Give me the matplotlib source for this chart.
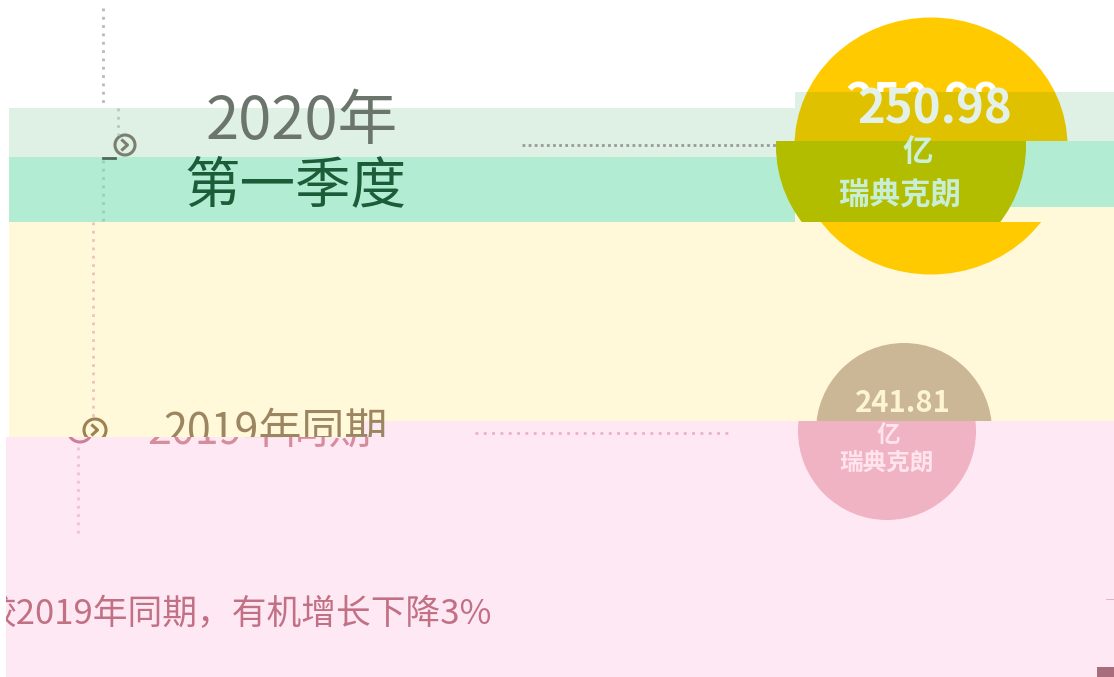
#!/usr/bin/env python
# -*- coding: utf-8 -*-

import matplotlib
matplotlib.use('Agg')
import matplotlib.pyplot as plt
from matplotlib.patches import Rectangle, Ellipse, Circle
from matplotlib.transforms import Bbox, TransformedBbox

plt.rcParams['font.family'] = ['Noto Sans CJK SC', 'DejaVu Sans']

# values shown in the picture
periods = ['2020年', '2019年同期']
quarter = '第一季度'
revenue = [250.98, 241.81]
unit_lines = ['亿', '瑞典克朗']
note = '较2019年同期，有机增长下降3%'


def clip(art, x0, y0, x1, y1):
    # patches: clip path, texts: clip box (agg ignores clip paths on text)
    if isinstance(art, matplotlib.text.Text):
        art.set_clip_on(True)
        art.set_clip_box(TransformedBbox(Bbox([[x0, y0], [x1, y1]]), ax.transData))
    else:
        r = Rectangle((x0, y0), x1 - x0, y1 - y0, transform=ax.transData)
        art.set_clip_path(r)
    return art


def rect(x0, y0, x1, y1, c):
    ax.add_patch(Rectangle((x0, y0), x1 - x0, y1 - y0, color=c, lw=0))


def ring(cx, cy, r, c, box):
    p = ax.add_patch(Circle((cx, cy), r, fill=False, ec=c, lw=2.2))
    clip(p, *box)
    ln, = ax.plot([cx - 2.5, cx + 2.5, cx - 2.5], [cy - 4.5, cy, cy + 4.5], color=c, lw=2.2)
    clip(ln, *box)


fig = plt.figure(figsize=(11.14, 6.77), dpi=100)
ax = fig.add_axes([0, 0, 1, 1])
ax.set_xlim(0, 1114)
ax.set_ylim(677, 0)
ax.axis('off')

# background bands
rect(9, 207, 1114, 437, '#fff8d9')
rect(6, 437, 1114, 677, '#fde8f4')
rect(362, 421, 1114, 437, '#fde8f4')
rect(9, 108, 795, 157, '#dff0e5')
rect(795, 92, 1114, 141, '#dff0e5')
rect(9, 157, 795, 222, '#b2ecd3')
rect(795, 141, 1114, 207, '#b2ecd3')

# timeline dotted lines
ax.plot([103, 103], [8, 108], color='#b8b8b8', lw=2, ls=(0, (1, 2)))
ax.plot([118, 118], [108, 135], color='#b8c8bb', lw=2, ls=(0, (1, 2)))
ax.plot([103, 103], [160, 222], color='#9fcdb5', lw=2, ls=(0, (1, 2)))
ax.plot([93, 93], [222, 418], color='#f0c0c4', lw=2, ls=(0, (1, 2)))
ax.plot([78, 78], [447, 535], color='#f3c0d0', lw=2, ls=(0, (1, 2)))
ax.plot([103, 115], [158, 158], color='#4f6a58', lw=2)

ax.plot([522, 777], [145, 145], color='#9a9a9a', lw=2, ls=(0, (1, 1.2)))
ax.plot([475, 728], [433, 433], color='#ebb2c2', lw=2, ls=(0, (1, 2)))

# icons
ring(125, 145, 10, '#7b7f70', (0, 0, 1114, 157))
ring(95, 430, 11, '#9c8152', (0, 0, 1114, 437))
ring(80, 430, 12, '#cc7f95', (0, 437, 1114, 677))

# big circle 2020
for box in [(0, 0, 1114, 92), (0, 222, 1114, 677)]:
    clip(ax.add_patch(Ellipse((931, 146), 273, 257, color='#ffcb00', lw=0)), *box)
clip(ax.add_patch(Ellipse((931, 146), 273, 257, color='#dfc100', lw=0)), 0, 92, 1114, 141)
clip(ax.add_patch(Circle((901, 146), 125, color='#b2bd00', lw=0)), 0, 141, 1114, 222)

clip(ax.text(923, 118, f'{revenue[0]:.2f}', ha='center', va='baseline', fontsize=34,
             fontweight='bold', color='white'), 0, 0, 1114, 92)
ax.text(935, 124, f'{revenue[0]:.2f}', ha='center', va='baseline', fontsize=34,
        fontweight='bold', color='#e4f1e8')
ax.text(918, 161, unit_lines[0], ha='center', va='baseline', fontsize=22,
        fontweight='bold', color='#cdf0dc')
ax.text(900, 204, unit_lines[1], ha='center', va='baseline', fontsize=22,
        fontweight='bold', color='#c8efd6')

# small circle 2019
clip(ax.add_patch(Circle((904, 431), 88, color='#cbb796', lw=0)), 0, 0, 1114, 421)
clip(ax.add_patch(Circle((887, 431), 89, color='#efb3c3', lw=0)), 0, 421, 1114, 677)
ax.text(903, 412, f'{revenue[1]:.2f}', ha='center', va='baseline', fontsize=21,
        fontweight='bold', color='#fdf5d2')
ax.text(888, 442, unit_lines[0], ha='center', va='baseline', fontsize=17,
        fontweight='bold', color='#ffe4ee')
ax.text(887, 470, unit_lines[1], ha='center', va='baseline', fontsize=17,
        fontweight='bold', color='#ffe4ee')

# headings
ax.text(302, 139, periods[0], ha='center', va='baseline', fontsize=43, color='#6b756b')
ax.text(295, 202, quarter, ha='center', va='baseline', fontsize=40, color='#1b5c39')

clip(ax.text(275, 444, periods[1], ha='center', va='baseline', fontsize=31,
             color='#9c8561'), 0, 0, 1114, 437)
clip(ax.text(259, 444, periods[1], ha='center', va='baseline', fontsize=31,
             color='#d58c9d'), 0, 437, 1114, 677)

# note
clip(ax.text(-18, 624, note, ha='left', va='baseline', fontsize=25, color='#c27084'),
     6, 437, 1114, 677)
clip(ax.text(1104, 624, note[9], ha='left', va='baseline', fontsize=25, color='#c27084'),
     0, 437, 1114, 600)
rect(1097, 667, 1114, 677, '#a86c7c')

plt.savefig('out.png', dpi=100)
